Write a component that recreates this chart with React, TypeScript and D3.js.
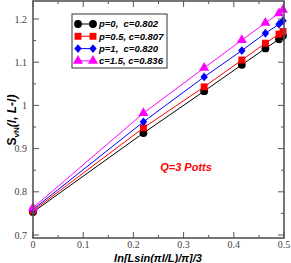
import React, { useRef, useEffect } from "react";
import * as d3 from "d3";

const xValues = [0, 0.22, 0.341, 0.416, 0.463, 0.49, 0.498];
const blackValues = [0.753, 0.936, 1.033, 1.094, 1.132, 1.153, 1.161];
const redValues = [0.756, 0.948, 1.043, 1.105, 1.144, 1.165, 1.171];
const blueValues = [0.759, 0.962, 1.066, 1.127, 1.167, 1.188, 1.196];
const magentaValues = [0.763, 0.982, 1.087, 1.151, 1.191, 1.213, 1.221];
const seriesLabels = ["p=0,  c=0.802", "p=0.5, c=0.807", "p=1,  c=0.820", "c=1.5, c=0.836"];
const seriesColors = ["#000000", "#ff0000", "#0000ff", "#ff00ff"];
const seriesShapes = ["circle", "square", "diamond", "triangle"];
const xTicks = [0, 0.1, 0.2, 0.3, 0.4, 0.5];
const yTicks = [0.7, 0.8, 0.9, 1, 1.1, 1.2];

const width = 291;
const height = 263;

const App: React.FC = () => {
	const svgRef = useRef<SVGSVGElement | null>(null);

	useEffect(() => {
		if (!svgRef.current) return;
		const svg = d3.select(svgRef.current);
		svg.selectAll("*").remove();

		const left = 33, right = 284, top = 1, bottom = 238;
		const x = d3.scaleLinear().domain([0, 0.5]).range([left, right]);
		const y = d3.scaleLinear().domain([0.7, 1.2]).range([235, 19]);

		const allSeries = [blackValues, redValues, blueValues, magentaValues];

		const symbolFor = (shape: string) => {
			if (shape === "circle") return d3.symbol(d3.symbolCircle, 48)();
			if (shape === "square") return d3.symbol(d3.symbolSquare, 48)();
			if (shape === "diamond") return "M0,-4.4L3.7,0L0,4.4L-3.7,0Z";
			return d3.symbol(d3.symbolTriangle, 44)();
		};

		const line = d3
			.line<number>()
			.x((_, i) => x(xValues[i]))
			.y((d) => y(d));

		allSeries.forEach((vals, si) => {
			svg.append("path")
				.attr("d", line(vals))
				.attr("fill", "none")
				.attr("stroke", seriesColors[si])
				.attr("stroke-width", 1);
		});
		allSeries.forEach((vals, si) => {
			svg.append("g")
				.selectAll("path")
				.data(vals)
				.enter()
				.append("path")
				.attr("d", symbolFor(seriesShapes[si]))
				.attr("transform", (d, i) => `translate(${x(xValues[i])},${y(d)})`)
				.attr("fill", seriesColors[si]);
		});

		// frame
		svg.append("rect")
			.attr("x", left)
			.attr("y", top)
			.attr("width", right - left)
			.attr("height", bottom - top)
			.attr("fill", "none")
			.attr("stroke", "#555")
			.attr("stroke-width", 1.6);

		const tickG = svg.append("g").attr("stroke", "#555").attr("stroke-width", 1);
		const xMinor = d3.range(0.05, 0.5, 0.1);
		xTicks.forEach((t) => {
			tickG.append("line").attr("x1", x(t)).attr("x2", x(t)).attr("y1", bottom).attr("y2", bottom - 6);
			tickG.append("line").attr("x1", x(t)).attr("x2", x(t)).attr("y1", top).attr("y2", top + 6);
		});
		xMinor.forEach((t) => {
			tickG.append("line").attr("x1", x(t)).attr("x2", x(t)).attr("y1", bottom).attr("y2", bottom - 3);
			tickG.append("line").attr("x1", x(t)).attr("x2", x(t)).attr("y1", top).attr("y2", top + 3);
		});
		const yMinor = d3.range(0.75, 1.24, 0.1);
		yTicks.forEach((t) => {
			tickG.append("line").attr("x1", left).attr("x2", left + 6).attr("y1", y(t)).attr("y2", y(t));
			tickG.append("line").attr("x1", right).attr("x2", right - 6).attr("y1", y(t)).attr("y2", y(t));
		});
		yMinor.forEach((t) => {
			tickG.append("line").attr("x1", left).attr("x2", left + 3).attr("y1", y(t)).attr("y2", y(t));
			tickG.append("line").attr("x1", right).attr("x2", right - 3).attr("y1", y(t)).attr("y2", y(t));
		});

		svg.append("g")
			.selectAll("text")
			.data(xTicks)
			.enter()
			.append("text")
			.attr("x", (d) => x(d))
			.attr("y", 248)
			.attr("text-anchor", "middle")
			.attr("font-family", "Liberation Serif, serif")
			.attr("font-size", 10)
			.attr("fill", "#444")
			.text((d) => String(d));

		svg.append("g")
			.selectAll("text")
			.data(yTicks)
			.enter()
			.append("text")
			.attr("x", 27)
			.attr("y", (d) => y(d))
			.attr("dy", "0.35em")
			.attr("text-anchor", "end")
			.attr("font-family", "Liberation Serif, serif")
			.attr("font-size", 10)
			.attr("fill", "#444")
			.text((d) => String(d));

		// axis titles
		svg.append("text")
			.attr("x", 158)
			.attr("y", 262)
			.attr("text-anchor", "middle")
			.attr("font-family", "Liberation Sans, Arial, sans-serif")
			.attr("font-size", 11)
			.attr("font-weight", "bold")
			.attr("font-style", "italic")
			.text("ln[Lsin(πl/L)/π]/3");

		const yt = svg.append("text")
			.attr("transform", "translate(16,120) rotate(-90)")
			.attr("text-anchor", "middle")
			.attr("font-family", "Liberation Sans, Arial, sans-serif")
			.attr("font-size", 12)
			.attr("font-weight", "bold");
		yt.append("tspan").text("S");
		yt.append("tspan").attr("font-size", 8).attr("dy", 3).text("vN");
		yt.append("tspan").attr("dy", -3).attr("font-style", "italic").text("(l, L-l)");

		svg.append("text")
			.attr("x", 186)
			.attr("y", 171)
			.attr("text-anchor", "middle")
			.attr("font-family", "Liberation Sans, Arial, sans-serif")
			.attr("font-size", 11)
			.attr("font-weight", "bold")
			.attr("font-style", "italic")
			.attr("fill", "#ff0000")
			.text("Q=3 Potts");

		// legend
		const lg = svg.append("g");
		lg.append("rect")
			.attr("x", 72)
			.attr("y", 14)
			.attr("width", 95)
			.attr("height", 54)
			.attr("fill", "#fff")
			.attr("stroke", "#333")
			.attr("stroke-width", 1);
		seriesLabels.forEach((lab, i) => {
			const ly = 24 + i * 12.3;
			lg.append("line")
				.attr("x1", 78).attr("x2", 93)
				.attr("y1", ly).attr("y2", ly)
				.attr("stroke", seriesColors[i]);
			[78, 93].forEach((mx) => {
				lg.append("path")
					.attr("d", symbolFor(seriesShapes[i]))
					.attr("transform", `translate(${mx},${ly})`)
					.attr("fill", seriesColors[i]);
			});
			lg.append("text")
				.attr("x", 99)
				.attr("y", ly)
				.attr("dy", "0.35em")
				.attr("font-family", "Liberation Sans, Arial, sans-serif")
				.attr("font-size", 9.5)
				.attr("font-weight", "bold")
				.attr("font-style", "italic")
				.attr("xml:space", "preserve")
				.style("white-space", "pre")
				.text(lab);
		});
	}, []);

	return (
		<svg
			ref={svgRef}
			width={width}
			height={height}
			style={{ position: "absolute", left: 0, top: 0, background: "#fff" }}
		/>
	);
};

export default App;
